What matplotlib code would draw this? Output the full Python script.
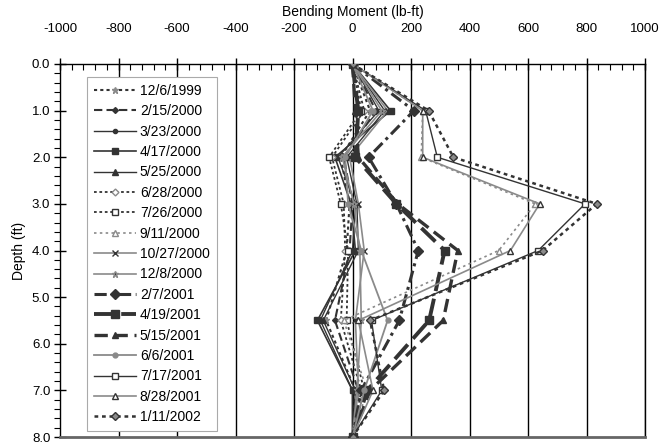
import matplotlib
matplotlib.use("Agg")
import matplotlib.pyplot as plt
from matplotlib.ticker import MultipleLocator, FormatStrFormatter

plt.rcParams['font.family'] = ['Liberation Sans', 'DejaVu Sans']
plt.rcParams['axes.unicode_minus'] = False

depth = [0, 1, 2, 3, 4, 5.5, 7, 8]

labels = ["12/6/1999", "2/15/2000", "3/23/2000", "4/17/2000", "5/25/2000",
          "6/28/2000", "7/26/2000", "9/11/2000", "10/27/2000", "12/8/2000",
          "2/7/2001", "4/19/2001", "5/15/2001", "6/6/2001", "7/17/2001",
          "8/28/2001", "1/11/2002"]

m_1999_12_06 = [0, 60, -40, -10, -20, -90, 10, 0]
m_2000_02_15 = [0, 80, -30, 0, -10, -60, 20, 0]
m_2000_03_23 = [0, 90, -50, 10, 0, -110, 0, 0]
m_2000_04_17 = [0, 130, -60, -5, 10, -120, 0, 0]
m_2000_05_25 = [0, 110, -20, 15, 20, -100, 10, 0]
m_2000_06_28 = [0, 40, -70, -30, -25, -40, 30, 0]
m_2000_07_26 = [0, 30, -80, -40, -15, -20, 40, 0]
m_2000_09_11 = [0, 240, 235, 625, 500, -30, 50, 0]
m_2000_10_27 = [0, 120, -10, 20, 40, 10, 20, 0]
m_2000_12_08 = [0, 100, -35, 5, 25, 30, 15, 0]
m_2001_02_07 = [0, 210, 55, 150, 225, 160, 30, 0]
m_2001_04_19 = [0, 20, 10, 150, 315, 262, 50, 0]
m_2001_05_15 = [0, 10, 20, 155, 360, 310, 60, 0]
m_2001_06_06 = [0, 70, -25, -15, 30, 120, 40, 0]
m_2001_07_17 = [0, 250, 290, 795, 635, 65, 100, 0]
m_2001_08_28 = [0, 240, 240, 640, 540, 20, 70, 0]
m_2002_01_11 = [0, 260, 345, 835, 650, 60, 108, 0]

series = [m_1999_12_06, m_2000_02_15, m_2000_03_23, m_2000_04_17, m_2000_05_25,
          m_2000_06_28, m_2000_07_26, m_2000_09_11, m_2000_10_27, m_2000_12_08,
          m_2001_02_07, m_2001_04_19, m_2001_05_15, m_2001_06_06, m_2001_07_17,
          m_2001_08_28, m_2002_01_11]

dark = '#333333'
gray = '#8a8a8a'
styles = [
    dict(color=dark, ls=(0, (1.5, 1.5)), lw=1.5, marker='*', ms=5, mfc=gray, mec=gray),
    dict(color=dark, ls=(0, (4, 2)), lw=1.5, marker='D', ms=3, mfc=dark, mec=dark),
    dict(color=dark, ls='-', lw=1.0, marker='o', ms=3, mfc=dark, mec=dark),
    dict(color=dark, ls='-', lw=1.2, marker='s', ms=5, mfc=dark, mec=dark),
    dict(color=dark, ls='-', lw=1.0, marker='^', ms=4, mfc=dark, mec=dark),
    dict(color=dark, ls=(0, (1.5, 1.5)), lw=1.3, marker='D', ms=3.5, mfc='white', mec=gray),
    dict(color=dark, ls=(0, (1.5, 1.5)), lw=1.3, marker='s', ms=4.5, mfc='white', mec=dark),
    dict(color=gray, ls=(0, (1.5, 2)), lw=1.2, marker='^', ms=4.5, mfc='white', mec=gray),
    dict(color=gray, ls='-', lw=1.2, marker='x', ms=4, mfc=gray, mec=dark),
    dict(color=gray, ls='-', lw=1.2, marker='*', ms=5, mfc=dark, mec=gray),
    dict(color=dark, ls=(0, (4, 1.5, 1, 1.5)), lw=2.2, marker='D', ms=5, mfc=dark, mec=dark),
    dict(color=dark, ls=(0, (5, 2)), lw=2.8, marker='s', ms=6, mfc=dark, mec=dark),
    dict(color=dark, ls=(0, (4, 2)), lw=2.4, marker='^', ms=5, mfc=dark, mec=dark),
    dict(color=gray, ls='-', lw=1.3, marker='o', ms=3.5, mfc=gray, mec=gray),
    dict(color=dark, ls='-', lw=1.0, marker='s', ms=5, mfc='white', mec=dark),
    dict(color=gray, ls='-', lw=1.2, marker='^', ms=4.5, mfc='white', mec=dark),
    dict(color=dark, ls=(0, (1.5, 1.5)), lw=1.8, marker='D', ms=4, mfc=gray, mec=dark),
]

fig = plt.figure(figsize=(6.63, 4.45), dpi=100)
L, R, T, B = 60, 645, 64, 437
ax = fig.add_axes([L / 663, 1 - B / 445, (R - L) / 663, (B - T) / 445])

for x in range(-800, 1001, 200):
    ax.axvline(x, color='black', lw=1.0, zorder=1)

for vals, lab, st in zip(series, labels, styles):
    ax.plot(vals, depth, label=lab, zorder=3, **st)

ax.set_xlim(-1000, 1000)
ax.set_ylim(8, 0)

ax.xaxis.tick_top()
ax.xaxis.set_label_position('top')
ax.xaxis.set_major_locator(MultipleLocator(200))
ax.xaxis.set_minor_locator(MultipleLocator(40))
ax.yaxis.set_major_locator(MultipleLocator(1))
ax.yaxis.set_minor_locator(MultipleLocator(0.2))
ax.yaxis.set_major_formatter(FormatStrFormatter('%.1f'))

ax.tick_params(axis='x', which='major', direction='inout', length=8, width=1,
               labelsize=9.5, pad=17, top=True, bottom=False)
ax.tick_params(axis='x', which='minor', direction='in', length=4, width=0.8,
               top=True, bottom=False)
ax.tick_params(axis='y', which='major', direction='inout', length=8, width=1,
               labelsize=9.5, pad=3)
ax.tick_params(axis='y', which='minor', direction='out', length=4, width=0.8)

ax.set_xlabel('Bending Moment (lb-ft)', fontsize=10, labelpad=5)
ax.set_ylabel('Depth (ft)', fontsize=10, labelpad=4)

for s in ['top', 'left', 'right']:
    ax.spines[s].set_color('black')
    ax.spines[s].set_linewidth(1.0)
ax.spines['bottom'].set_color('#666666')
ax.spines['bottom'].set_linewidth(2.0)

leg = ax.legend(loc='upper left', bbox_to_anchor=((87 - L) / (R - L), 1 - 13 / (B - T)),
                fontsize=10, frameon=True, fancybox=False, framealpha=1,
                edgecolor='#aaaaaa', handlelength=3.0, handletextpad=0.3,
                labelspacing=0.46, borderpad=0.5, borderaxespad=0)
leg.get_frame().set_linewidth(0.8)
leg.set_zorder(5)

fig.savefig('out.png', dpi=100)
